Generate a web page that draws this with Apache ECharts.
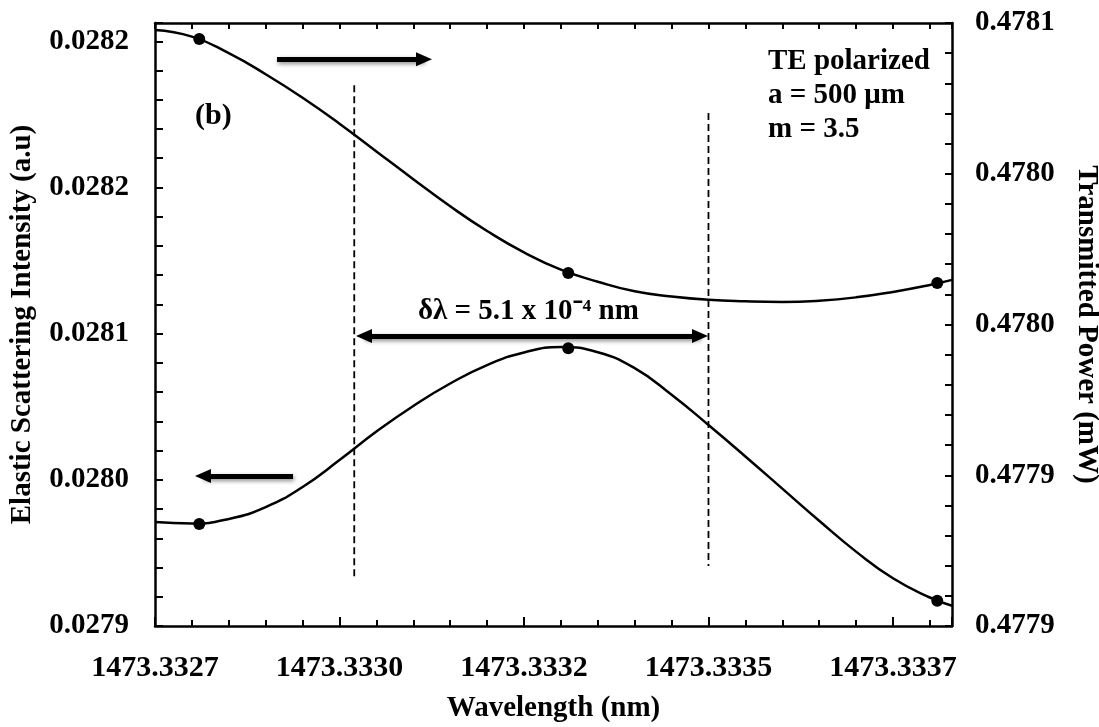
<!DOCTYPE html>
<html>
<head>
<meta charset="utf-8">
<script src="https://cdn.jsdelivr.net/npm/echarts@6/dist/echarts.min.js"></script>
<style>
  html, body { margin: 0; padding: 0; background: #ffffff; }
  #chart { width: 1099px; height: 727px; }
</style>
</head>
<body>
<div id="chart"></div>
<script>
// Computed points (wavelength in nm)
const sampleWavelength = [1473.33276, 1473.33326, 1473.33376];
const sampleScattering = [0.0279758, 0.028072, 0.0279338];
const samplePower      = [0.4780747, 0.4779971, 0.4779938];

// Wavelengths at which the fitted curves are traced (nm)
const curveWavelength = [1473.3327, 1473.33275, 1473.3328, 1473.33285, 1473.3329, 1473.33295,
  1473.333, 1473.33305, 1473.3331, 1473.33315, 1473.3332, 1473.33325, 1473.3333, 1473.33335,
  1473.3334, 1473.33345, 1473.3335, 1473.33355, 1473.3336, 1473.33365, 1473.3337, 1473.33375,
  1473.33378];

// Elastic scattering intensity curve (left axis, a.u)
const scatCurveIntensity = [0.0279769, 0.0279761, 0.0279786, 0.0279851, 0.0279961, 0.0280108,
  0.0280264, 0.0280404, 0.0280527, 0.0280628, 0.0280697, 0.0280727, 0.0280698, 0.0280611,
  0.0280466, 0.02803, 0.0280128, 0.0279952, 0.0279776, 0.0279607, 0.0279461, 0.0279356,
  0.0279311];

// Transmitted power curve (right axis, mW)
const powerCurveValue = [0.4780777, 0.4780755, 0.47807, 0.478063, 0.4780552, 0.4780466,
  0.4780374, 0.4780282, 0.4780192, 0.478011, 0.4780039, 0.4779982, 0.4779942, 0.477991,
  0.4779893, 0.4779882, 0.4779877, 0.4779875, 0.4779879, 0.477989, 0.4779908, 0.4779931,
  0.4779948];

// Half-width markers: wavelength, top and bottom of each dashed line (left axis units)
const halfWidthWavelength = [1473.33297, 1473.33345];
const halfWidthTop    = [0.028216, 0.0282007];
const halfWidthBottom = [0.0279452, 0.0279528];

// Tick labels
const xTickLabels     = ['1473.3327', '1473.3330', '1473.3332', '1473.3335', '1473.3337'];
const leftTickLabels  = ['0.0279', '0.0280', '0.0281', '0.0282', '0.0282'];
const rightTickLabels = ['0.4779', '0.4779', '0.4780', '0.4780', '0.4781'];

// Axis ranges and steps
const X_MIN = 1473.3327, X_MAX = 1473.33378, X_MINOR = 0.00005, X_MAJOR = 0.00025;
const L_MIN = 0.02792, L_MAX = 0.02825, L_MINOR = 0.000016;
const R_MIN = 0.47788, R_MAX = 0.47808, R_MINOR = 0.00001;

const FONT = '"Liberation Serif", "Times New Roman", serif';

function everyFifth(labels, min, step) {
  return function (v) {
    const f = (v - min) / step;
    const k = Math.round(f);
    if (Math.abs(f - k) > 0.01 || k % 5 !== 0) return '';
    return labels[k / 5] || '';
  };
}

const zip = (a, b) => a.map((x, i) => [x, b[i]]);

const chart = echarts.init(document.getElementById('chart'), null, { renderer: 'canvas' });

const labelStyle = { color: '#000', fontFamily: FONT, fontWeight: 'bold', fontSize: 29 };
const xLabelStyle = { color: '#000', fontFamily: FONT, fontWeight: 'bold', fontSize: 30 };
const nameStyle = { color: '#000', fontFamily: FONT, fontWeight: 'bold', fontSize: 29 };
const axisLine = { show: true, onZero: false, lineStyle: { color: '#000', width: 2.5 } };
const tickStyle = { color: '#000', width: 2 };

const arrowLine = {
  color: '#000', width: 5, type: 'solid',
  shadowBlur: 4, shadowColor: 'rgba(0,0,0,0.45)', shadowOffsetY: 2, shadowOffsetX: 1
};

chart.setOption({
  animation: false,
  backgroundColor: '#ffffff',
  grid: { left: 155, right: 147, top: 23, bottom: 101, containLabel: false, outerBoundsMode: 'none' },
  xAxis: [
    {
      type: 'value', position: 'bottom', min: X_MIN, max: X_MAX, interval: X_MINOR,
      axisLine: axisLine,
      axisTick: { show: true, inside: true, length: 6, lineStyle: tickStyle },
      axisLabel: Object.assign({ margin: 27, formatter: everyFifth(xTickLabels, X_MIN, X_MINOR) }, xLabelStyle),
      splitLine: { show: false },
      name: 'Wavelength (nm)', nameLocation: 'middle', nameGap: 68, nameTextStyle: nameStyle
    },
    {
      type: 'value', position: 'top', min: X_MIN, max: X_MAX, interval: X_MINOR,
      axisLine: axisLine,
      axisTick: { show: true, inside: true, length: 6, lineStyle: tickStyle },
      axisLabel: { show: false }, splitLine: { show: false }
    },
    {
      type: 'value', position: 'bottom', min: X_MIN, max: X_MAX, interval: X_MAJOR,
      axisLine: { show: false },
      axisTick: { show: true, inside: true, length: 9, lineStyle: tickStyle },
      axisLabel: { show: false }, splitLine: { show: false }
    }
  ],
  yAxis: [
    {
      type: 'value', position: 'left', min: L_MIN, max: L_MAX, interval: L_MINOR,
      axisLine: axisLine,
      axisTick: { show: true, inside: true, length: 8, lineStyle: tickStyle },
      axisLabel: Object.assign({ margin: 26, formatter: everyFifth(leftTickLabels, L_MIN, L_MINOR) }, labelStyle),
      splitLine: { show: false },
      name: 'Elastic Scattering Intensity (a.u)', nameLocation: 'middle', nameGap: 118,
      nameTextStyle: nameStyle
    },
    {
      type: 'value', position: 'right', min: R_MIN, max: R_MAX, interval: R_MINOR,
      axisLine: axisLine,
      axisTick: { show: true, inside: true, length: 7, lineStyle: tickStyle },
      axisLabel: Object.assign({ margin: 23, formatter: everyFifth(rightTickLabels, R_MIN, R_MINOR) }, labelStyle),
      splitLine: { show: false },
      name: 'Transmitted Power (mW)', nameLocation: 'middle', nameGap: 120, nameRotate: -90,
      nameTextStyle: nameStyle
    }
  ],
  series: [
    {
      name: 'Elastic scattering', type: 'line', xAxisIndex: 0, yAxisIndex: 0,
      data: zip(curveWavelength, scatCurveIntensity),
      smooth: 0.5, showSymbol: false, symbol: 'none', silent: true,
      lineStyle: { color: '#000', width: 2.5 }, z: 3
    },
    {
      name: 'Transmitted power', type: 'line', xAxisIndex: 0, yAxisIndex: 1,
      data: zip(curveWavelength, powerCurveValue),
      smooth: 0.5, showSymbol: false, symbol: 'none', silent: true,
      lineStyle: { color: '#000', width: 2.5 }, z: 3
    },
    {
      type: 'scatter', xAxisIndex: 0, yAxisIndex: 0,
      data: zip(sampleWavelength, sampleScattering),
      symbol: 'circle', symbolSize: 12, itemStyle: { color: '#000', opacity: 1 }, silent: true, z: 4
    },
    {
      type: 'scatter', xAxisIndex: 0, yAxisIndex: 1,
      data: zip(sampleWavelength, samplePower),
      symbol: 'circle', symbolSize: 12, itemStyle: { color: '#000', opacity: 1 }, silent: true, z: 4,
      markLine: {
        silent: true, label: { show: false }, emphasis: { disabled: true },
        symbol: ['none', 'triangle'], symbolSize: [14, 16],
        lineStyle: arrowLine,
        data: [
          [{ coord: [1473.3328653, 0.478068] }, { coord: [1473.3330645, 0.478068] }]
        ]
      }
    },
    {
      type: 'line', xAxisIndex: 0, yAxisIndex: 0,
      data: [[halfWidthWavelength[0], halfWidthTop[0]], [halfWidthWavelength[0], halfWidthBottom[0]]],
      showSymbol: false, symbol: 'none', silent: true,
      lineStyle: { color: '#000', width: 1.8, type: [7, 4] }, z: 2,
      markLine: {
        silent: true, label: { show: false }, emphasis: { disabled: true },
        symbol: ['triangle', 'triangle'], symbolSize: [14, 16],
        lineStyle: arrowLine,
        data: [
          [{ coord: [1473.3329832, 0.0280787] }, { coord: [1473.3334385, 0.0280787] }],
          [{ coord: [1473.332887, 0.0280021], symbol: 'none' }, { coord: [1473.332765, 0.0280021], symbol: 'triangle' }]
        ]
      }
    },
    {
      type: 'line', xAxisIndex: 0, yAxisIndex: 0,
      data: [[halfWidthWavelength[1], halfWidthTop[1]], [halfWidthWavelength[1], halfWidthBottom[1]]],
      showSymbol: false, symbol: 'none', silent: true,
      lineStyle: { color: '#000', width: 1.8, type: [7, 4] }, z: 2
    }
  ],
  graphic: [
    {
      type: 'text', left: 195, top: 100,
      style: { text: '(b)', font: 'bold 30px ' + FONT, fill: '#000', lineHeight: 32 }
    },
    {
      type: 'text', left: 768, top: 45,
      style: { text: 'TE polarized\na = 500 μm\nm = 3.5', font: 'bold 29px ' + FONT, fill: '#000', lineHeight: 34 }
    },
    {
      type: 'text', left: 418, top: 296,
      style: { text: 'δλ = 5.1 x 10⁻⁴ nm', font: 'bold 29px ' + FONT, fill: '#000', lineHeight: 32 }
    }
  ]
});
</script>
</body>
</html>
